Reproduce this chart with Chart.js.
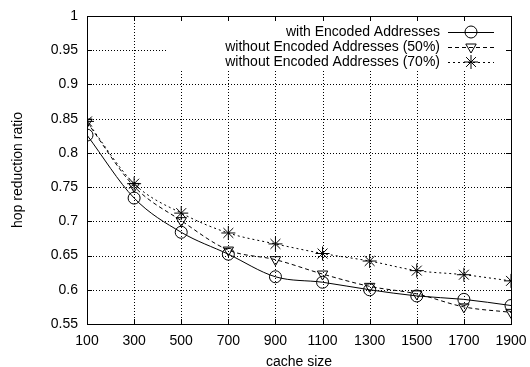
<!DOCTYPE html>
<html>
<head>
<meta charset="utf-8">
<script src="https://cdn.jsdelivr.net/npm/chart.js@4/dist/chart.umd.min.js"></script>
<style>
  html, body { margin: 0; padding: 0; background: #fff; }
  #wrap { width: 530px; height: 367px; }
</style>
</head>
<body>
<div id="wrap"><canvas id="grafico" width="530" height="367"></canvas></div>
<script>
// dados
const cacheSizes = [100, 300, 500, 700, 900, 1100, 1300, 1500, 1700, 1900];
const comEncoded = [0.826, 0.734, 0.684, 0.652, 0.619, 0.611, 0.600, 0.591, 0.586, 0.577];
const semEncoded50 = [0.845, 0.751, 0.701, 0.658, 0.644, 0.623, 0.605, 0.594, 0.575, 0.567];
const semEncoded70 = [0.846, 0.755, 0.712, 0.683, 0.667, 0.653, 0.642, 0.628, 0.622, 0.613];
const xTicks = [100, 300, 500, 700, 900, 1100, 1300, 1500, 1700, 1900];
const yTicks = [0.55, 0.6, 0.65, 0.7, 0.75, 0.8, 0.85, 0.9, 0.95, 1];

const fonte = "'Liberation Sans', Arial, sans-serif";

function serie(label, valores, estilo, dash, raio, rot) {
    return {
        label: label,
        data: cacheSizes.map((x, i) => ({ x: x, y: valores[i] })),
        borderColor: '#000',
        borderWidth: 1,
        borderDash: dash,
        backgroundColor: 'rgba(0,0,0,0)',
        pointStyle: estilo,
        pointRadius: raio,
        pointRotation: rot,
        pointBorderColor: '#000',
        pointBackgroundColor: 'rgba(0,0,0,0)',
        pointBorderWidth: 1,
        cubicInterpolationMode: 'monotone',
        fill: false
    };
}

// grade pontilhada, moldura, marcas internas e legenda no estilo gnuplot
const gnuplotStyle = {
    id: 'gnuplotStyle',
    beforeDatasetsDraw(chart) {
        const ctx = chart.ctx;
        const a = chart.chartArea;
        const xs = chart.scales.x;
        const ys = chart.scales.y;
        ctx.save();
        ctx.strokeStyle = '#000';
        ctx.lineWidth = 1;
        ctx.setLineDash([1, 2]);
        ctx.beginPath();
        xTicks.slice(1, -1).forEach(v => {
            const px = Math.round(xs.getPixelForValue(v)) + 0.5;
            ctx.moveTo(px, a.bottom); ctx.lineTo(px, a.top);
        });
        yTicks.slice(1, -1).forEach(v => {
            const py = Math.round(ys.getPixelForValue(v)) + 0.5;
            ctx.moveTo(a.left, py); ctx.lineTo(a.right, py);
        });
        ctx.stroke();
        // caixa opaca da legenda
        ctx.fillStyle = '#fff';
        ctx.fillRect(166, a.top + 1, a.right - 167, 54);
        ctx.restore();
    },
    afterDatasetsDraw(chart) {
        const ctx = chart.ctx;
        const a = chart.chartArea;
        const xs = chart.scales.x;
        const ys = chart.scales.y;
        ctx.save();
        ctx.strokeStyle = '#000';
        ctx.lineWidth = 1;
        ctx.setLineDash([]);
        ctx.beginPath();
        xTicks.forEach(v => {
            const px = Math.round(xs.getPixelForValue(v)) + 0.5;
            ctx.moveTo(px, a.bottom); ctx.lineTo(px, a.bottom - 5);
            ctx.moveTo(px, a.top); ctx.lineTo(px, a.top + 5);
        });
        yTicks.forEach(v => {
            const py = Math.round(ys.getPixelForValue(v)) + 0.5;
            ctx.moveTo(a.left, py); ctx.lineTo(a.left + 5, py);
            ctx.moveTo(a.right, py); ctx.lineTo(a.right - 5, py);
        });
        ctx.stroke();
        ctx.strokeRect(Math.round(a.left) + 0.5, Math.round(a.top) + 0.5,
            Math.round(a.right - a.left), Math.round(a.bottom - a.top));

        // legenda
        ctx.font = '14px ' + fonte;
        ctx.textAlign = 'right';
        ctx.textBaseline = 'middle';
        chart.data.datasets.forEach((ds, i) => {
            const y = a.top + 16 + i * 15;
            ctx.fillStyle = '#000';
            ctx.fillText(ds.label, 440, y);
            ctx.setLineDash(ds.borderDash);
            ctx.beginPath();
            ctx.moveTo(448, y + 0.5);
            ctx.lineTo(494, y + 0.5);
            ctx.stroke();
            ctx.setLineDash([]);
            ctx.fillStyle = 'rgba(0,0,0,0)';
            Chart.helpers.drawPoint(ctx, {
                pointStyle: ds.pointStyle,
                rotation: ds.pointRotation,
                radius: ds.pointRadius,
                borderWidth: 1
            }, 471, y);
        });
        ctx.restore();
    }
};

const config = {
    type: 'line',
    data: {
        datasets: [
            serie('with Encoded Addresses', comEncoded, 'circle', [], 6, 0),
            serie('without Encoded Addresses (50%)', semEncoded50, 'triangle', [4, 3], 6, 180),
            serie('without Encoded Addresses (70%)', semEncoded70, 'star', [2, 3], 7, 0)
        ]
    },
    options: {
        responsive: false,
        animation: false,
        devicePixelRatio: 1,
        layout: { padding: { top: 16, right: 19, left: 0, bottom: 0 } },
        plugins: {
            legend: { display: false },
            tooltip: { enabled: false }
        },
        scales: {
            x: {
                type: 'linear',
                min: 100,
                max: 1900,
                afterBuildTicks: s => { s.ticks = xTicks.map(v => ({ value: v })); },
                afterFit: s => { s.height = 43; s.paddingLeft = 0; s.paddingRight = 0; },
                ticks: {
                    color: '#000',
                    font: { family: fonte, size: 14 },
                    padding: 9,
                    maxRotation: 0,
                    callback: v => String(v)
                },
                grid: { display: false, drawTicks: false },
                border: { display: false },
                title: {
                    display: true,
                    text: 'cache size',
                    color: '#000',
                    font: { family: fonte, size: 14 },
                    padding: { top: 0, bottom: -4 }
                }
            },
            y: {
                type: 'linear',
                min: 0.55,
                max: 1,
                afterBuildTicks: s => { s.ticks = yTicks.map(v => ({ value: v })); },
                afterFit: s => { s.width = 87; s.paddingTop = 0; s.paddingBottom = 0; },
                ticks: {
                    color: '#000',
                    font: { family: fonte, size: 14 },
                    padding: 9,
                    callback: v => String(+v.toFixed(2))
                },
                grid: { display: false, drawTicks: false },
                border: { display: false },
                title: {
                    display: true,
                    text: 'hop reduction ratio',
                    color: '#000',
                    font: { family: fonte, size: 14 },
                    padding: { top: 10, bottom: 0 }
                }
            }
        }
    },
    plugins: [gnuplotStyle]
};

const ctx = document.getElementById('grafico').getContext('2d');
new Chart(ctx, config);
</script>
</body>
</html>
